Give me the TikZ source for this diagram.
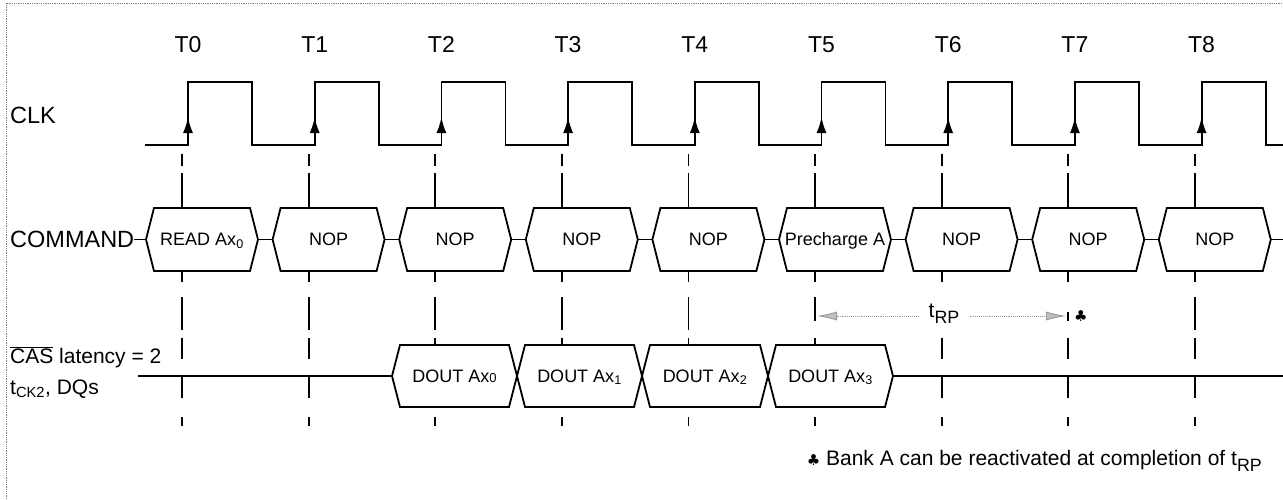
\documentclass[tikz,border=0pt]{standalone}
\usepackage{fontspec}
\usepackage{graphicx}
\setmainfont{Liberation Sans}
\newfontfamily\symfont{DejaVu Sans}
\usetikzlibrary{arrows.meta,positioning}

\tikzstyle{wave} = [line width=1.8pt, line join=miter]
\tikzstyle{rise} = [line width=1.8pt, -{Latex[length=16pt,width=10pt]}]
\tikzstyle{gridline} = [line width=1.8pt, dash pattern=on 12pt off 7pt on 35pt off 62pt on 12pt off 15pt on 33pt off 8pt on 21pt off 17pt on 22pt off 19pt on 9pt]
\tikzstyle{gridgap} = [line width=1.8pt, dash pattern=on 12pt off 7pt on 35pt off 62pt on 12pt off 56pt on 21pt off 17pt on 22pt off 19pt on 9pt]
\tikzstyle{signame} = [anchor=base west, inner sep=0pt, font=\fontsize{23.5}{27}\selectfont]
\tikzstyle{casname} = [anchor=base west, inner sep=0pt, font=\fontsize{21}{25}\selectfont]
\tikzstyle{tickname} = [anchor=base, inner sep=0pt, font=\fontsize{23}{27}\selectfont]
\tikzstyle{buslabel} = [anchor=base, inner sep=0pt, font=\fontsize{18}{21}\selectfont]
\tikzstyle{rparrow} = [gray!80, densely dotted, line width=0.9pt, -{Latex[length=20pt,width=9pt,fill=gray!50,color=gray!80]}]

% one hexagon bus value: name, left point, right point, centre y, half height, text
\newcommand{\busbox}[6]{%
  \draw[wave, fill=white] (#2,#4) -- ({#2+8},{#4-#5}) -- ({#3-8},{#4-#5}) -- (#3,#4) -- ({#3-8},{#4+#5}) -- ({#2+8},{#4+#5}) -- cycle;
  \coordinate (#1-w) at (#2,#4);
  \coordinate (#1-e) at (#3,#4);
  \node (#1) [buslabel] at ({(#2+#3)/2},{#4+6}) {#6};
}
\newcommand{\clkcycle}{-- ++(0,-63) -- ++(64,0) -- ++(0,63) -- ++(62.7,0)}
\newcommand{\bigsub}[1]{\raisebox{-0.3em}{\scalebox{0.85}{#1}}}

\begin{document}
\begin{tikzpicture}[x=1pt,y=-1pt]
\useasboundingbox (0,0) rectangle (1283,499);
\draw[gray, densely dotted, line width=0.8pt] (6,499) -- (6,3) -- (1283,3);

% clock
\node (T0) [tickname] at (188,52) {T0};
\node (T1) [tickname] at (314.7,52) {T1};
\node (T2) [tickname] at (441.4,52) {T2};
\node (T3) [tickname] at (568.1,52) {T3};
\node (T4) [tickname] at (694.8,52) {T4};
\node (T5) [tickname] at (821.5,52) {T5};
\node (T6) [tickname] at (948.2,52) {T6};
\node (T7) [tickname] at (1074.9,52) {T7};
\node (T8) [tickname] at (1201.6,52) {T8};

\node (clk) [signame] at (10,123) {CLK};
\draw[wave] (145,145) -- (188,145) \clkcycle \clkcycle \clkcycle \clkcycle \clkcycle \clkcycle \clkcycle \clkcycle
  -- ++(0,-63) -- ++(64,0) -- ++(0,63) -- (1283,145);
\draw[rise] (188,145) -- (188,117);
\draw[rise] (314.7,145) -- (314.7,117);
\draw[rise] (441.4,145) -- (441.4,117);
\draw[rise] (568.1,145) -- (568.1,117);
\draw[rise] (694.8,145) -- (694.8,117);
\draw[rise] (821.5,145) -- (821.5,117);
\draw[rise] (948.2,145) -- (948.2,117);
\draw[rise] (1074.9,145) -- (1074.9,117);
\draw[rise] (1201.6,145) -- (1201.6,117);

% dashed time marks
\draw[gridline] (182,154) -- (182,426) (308.6,154) -- (308.6,426) (435.2,154) -- (435.2,426)
  (561.8,154) -- (561.8,426) (688.4,154) -- (688.4,426) (1194.8,154) -- (1194.8,426);
\draw[gridgap] (815,154) -- (815,426) (941.6,154) -- (941.6,426) (1068.2,154) -- (1068.2,426);
\draw[wave] (815,297) -- (815,321);
\draw[wave] (1068.2,312) -- (1068.2,321);

% command bus
\node (command) [signame] at (10,247) {COMMAND};
\busbox{cmd0}{146}{258}{239.5}{31.5}{READ Ax\textsubscript{0}}
\busbox{cmd1}{272.6}{384.6}{239.5}{31.5}{NOP}
\busbox{cmd2}{399.2}{511.2}{239.5}{31.5}{NOP}
\busbox{cmd3}{525.8}{637.8}{239.5}{31.5}{NOP}
\busbox{cmd4}{652.4}{764.4}{239.5}{31.5}{NOP}
\busbox{cmd5}{779}{891}{239.5}{31.5}{Precharge A}
\busbox{cmd6}{905.6}{1017.6}{239.5}{31.5}{NOP}
\busbox{cmd7}{1032.2}{1144.2}{239.5}{31.5}{NOP}
\busbox{cmd8}{1158.8}{1270.8}{239.5}{31.5}{NOP}
\coordinate (cmdend) at (1283,239.5);
\draw[wave] (cmd0-w -| command.east) -- (cmd0-w);
\draw[wave] (cmd0-e) -- (cmd1-w);
\draw[wave] (cmd1-e) -- (cmd2-w);
\draw[wave] (cmd2-e) -- (cmd3-w);
\draw[wave] (cmd3-e) -- (cmd4-w);
\draw[wave] (cmd4-e) -- (cmd5-w);
\draw[wave] (cmd5-e) -- (cmd6-w);
\draw[wave] (cmd6-e) -- (cmd7-w);
\draw[wave] (cmd7-e) -- (cmd8-w);
\draw[wave] (cmd8-e) -- (cmdend);

% tRP
\coordinate (rpstart) at (817,316);
\coordinate (rpstop) at (1066,316);
\node (trp) [inner sep=10pt, font=\fontsize{21}{24}\selectfont] at (944,314) {t\bigsub{RP}};
\draw[rparrow] (trp.west |- rpstart) -- (rpstart);
\draw[rparrow] (trp.east |- rpstop) -- (rpstop);
\node (club) [right=8pt of rpstop, inner sep=0pt, font=\symfont\fontsize{15}{18}\selectfont] {♣};

% data bus
\node (cas) [casname] at (10,363) {$\overline{\mbox{CAS}}$ latency = 2};
\node (dqs) [casname] at (10,394) {t\textsubscript{CK2}, DQs};
\busbox{dout0}{392}{517}{376}{31}{DOUT Ax{\fontsize{13}{15}\selectfont 0}}
\busbox{dout1}{517}{642}{376}{31}{DOUT Ax\textsubscript{1}}
\busbox{dout2}{642}{768}{376}{31}{DOUT Ax\textsubscript{2}}
\busbox{dout3}{768}{893}{376}{31}{DOUT Ax\textsubscript{3}}
\coordinate (dqstart) at (138,376);
\coordinate (dqend) at (1283,376);
\draw[wave] (dqstart) -- (dout0-w);
\draw[wave] (dout3-e) -- (dqend);

\node (note) [anchor=base east, inner sep=0pt, font=\fontsize{21}{24}\selectfont] at (1262,465)
  {{\symfont\fontsize{15}{18}\selectfont ♣} Bank A can be reactivated at completion of t\bigsub{RP}};

\end{tikzpicture}
\end{document}
